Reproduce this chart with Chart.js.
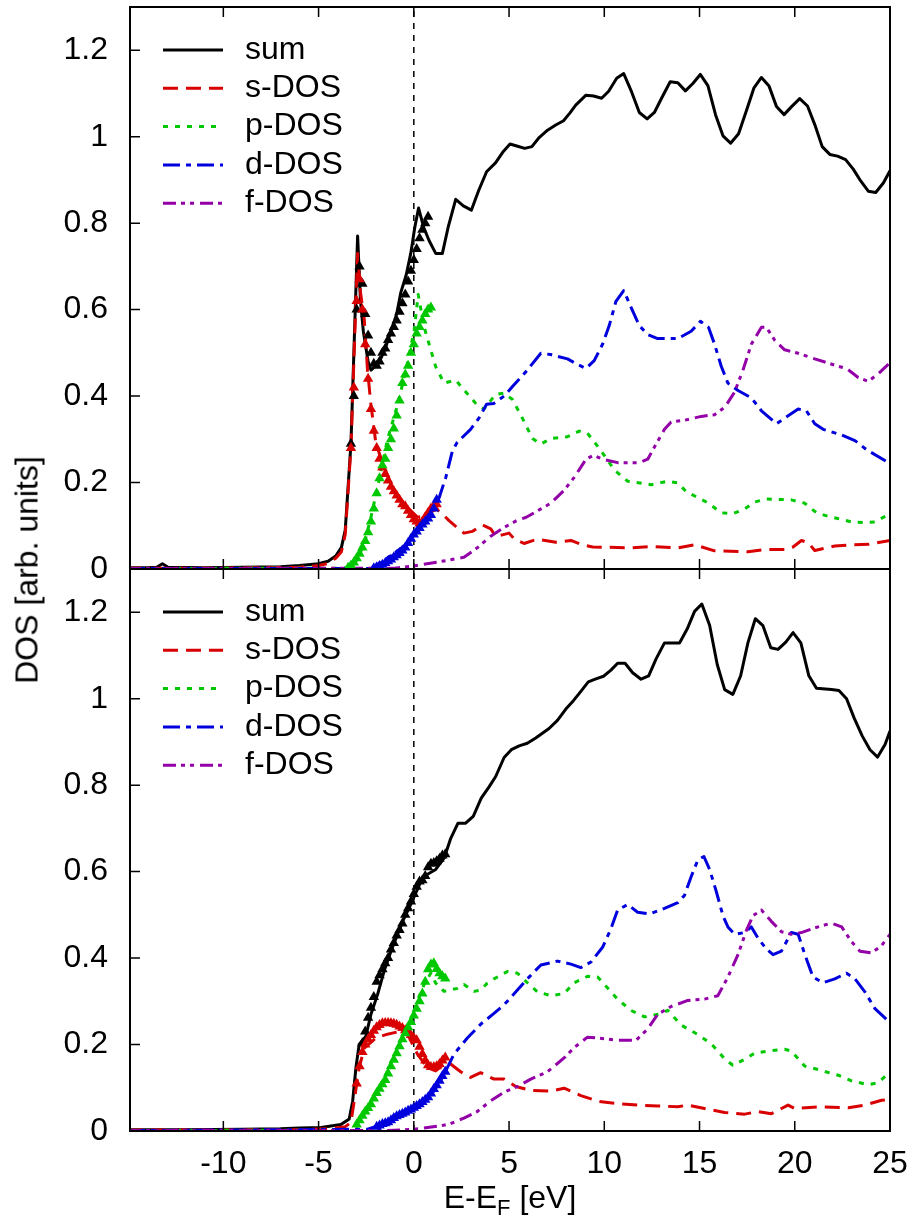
<!DOCTYPE html>
<html>
<head>
<meta charset="utf-8">
<script src="https://cdn.jsdelivr.net/npm/chart.js@4.4.1/dist/chart.umd.min.js"></script>
<style>
  body { margin: 0; background: #fff; }
  #wrap { position: relative; width: 916px; height: 1220px; font-family: "Liberation Sans", Arial, sans-serif; color: #000; }
  canvas { position: absolute; left: 0; }
  #top { top: 0; }
  #bot { top: 560px; }
  .ytitle { position: absolute; left: 27px; top: 570px; transform: translate(-50%, -50%) rotate(-90deg); font-size: 32px; white-space: nowrap; }
  .xtitle { position: absolute; left: 510px; top: 1200px; transform: translate(-50%, -50%); font-size: 32px; white-space: nowrap; }
  .xtitle sub { font-size: 22px; }
</style>
</head>
<body>
<div id="wrap">
  <canvas id="top" width="916" height="600"></canvas>
  <canvas id="bot" width="916" height="660"></canvas>
  <div class="ytitle">DOS [arb. units]</div>
  <div class="xtitle">E-E<sub>F</sub> [eV]</div>
</div>
<script>
// axes
const xMin = -14.9, xMax = 25;
const xTicks = [-10, -5, 0, 5, 10, 15, 20, 25];
const yTicks = [0, 0.2, 0.4, 0.6, 0.8, 1, 1.2];
const fermi = 0;

const names = ['sum', 's-DOS', 'p-DOS', 'd-DOS', 'f-DOS'];
const colors = ['#000000', '#d80000', '#00c800', '#0000dc', '#9400a8'];
const dashes = [[], [15, 8], [5, 7], [17, 6, 5, 6], [13, 5, 4, 5, 4, 6]];

// ---- upper panel: [E, DOS] ----
const sumTop = [[-15,0.003],[-14,0.003],[-13.5,0.004],[-13.2,0.012],[-12.9,0.004],[-11,0.003],[-9,0.004],[-7,0.005],[-6,0.008],[-5,0.012],[-4.5,0.018],[-4.1,0.03],[-3.8,0.05],[-3.6,0.09],[-3.3,0.29],[-3.14,0.51],[-2.95,0.77],[-2.8,0.62],[-2.65,0.55],[-2.4,0.48],[-2.25,0.46],[-2.0,0.47],[-1.8,0.48],[-1.5,0.51],[-1.2,0.55],[-0.9,0.59],[-0.68,0.64],[-0.4,0.68],[-0.16,0.73],[0.05,0.79],[0.25,0.835],[0.52,0.79],[0.8,0.76],[1.15,0.73],[1.5,0.73],[1.8,0.79],[2.2,0.855],[2.6,0.84],[3.02,0.83],[3.4,0.875],[3.82,0.919],[4.3,0.94],[4.7,0.966],[5.05,0.983],[5.45,0.978],[5.82,0.973],[6.2,0.977],[6.58,0.998],[7.02,1.015],[7.45,1.027],[7.86,1.037],[8.2,1.055],[8.5,1.073],[9.04,1.096],[9.44,1.094],[9.86,1.089],[10.23,1.105],[10.65,1.135],[11.02,1.146],[11.44,1.103],[11.84,1.056],[12.25,1.041],[12.63,1.056],[13.02,1.09],[13.46,1.127],[13.86,1.125],[14.26,1.106],[14.65,1.123],[15.04,1.144],[15.44,1.118],[15.84,1.051],[16.23,1.002],[16.63,0.985],[17.05,1.007],[17.46,1.06],[17.86,1.113],[18.25,1.137],[18.65,1.117],[19.04,1.07],[19.44,1.051],[19.82,1.069],[20.26,1.088],[20.67,1.071],[21.05,1.028],[21.44,0.977],[21.84,0.959],[22.25,0.955],[22.67,0.947],[23.07,0.925],[23.47,0.897],[23.86,0.874],[24.25,0.871],[24.65,0.893],[25.0,0.921]];
const sTop = [[-15,0.002],[-10,0.002],[-6,0.004],[-5,0.008],[-4.5,0.013],[-4.1,0.025],[-3.8,0.04],[-3.6,0.08],[-3.3,0.28],[-3.14,0.49],[-2.95,0.73],[-2.8,0.64],[-2.6,0.577],[-2.43,0.46],[-2.25,0.38],[-1.99,0.29],[-1.56,0.236],[-1.03,0.18],[-0.33,0.142],[0.19,0.12],[0.72,0.123],[1.15,0.14],[1.5,0.127],[1.85,0.112],[2.3,0.095],[2.63,0.083],[3.07,0.087],[3.6,0.102],[4.04,0.093],[4.3,0.075],[4.65,0.079],[5.0,0.083],[5.26,0.07],[5.79,0.059],[6.49,0.069],[7.46,0.062],[8.25,0.066],[8.77,0.057],[9.39,0.051],[11.4,0.049],[12.46,0.052],[13.86,0.049],[14.74,0.056],[15.79,0.042],[17.54,0.04],[18.42,0.045],[19.47,0.045],[19.91,0.051],[20.35,0.066],[20.7,0.061],[21.05,0.043],[22.1,0.053],[22.98,0.056],[23.86,0.057],[25.0,0.066]];
const pTop = [[-15,0.001],[-4,0.002],[-3.47,0.003],[-3.0,0.02],[-2.6,0.058],[-2.25,0.12],[-1.9,0.19],[-1.38,0.3],[-0.85,0.38],[-0.33,0.476],[0.02,0.553],[0.23,0.635],[0.54,0.56],[0.89,0.507],[1.15,0.468],[1.59,0.43],[2.2,0.437],[2.64,0.414],[3.33,0.379],[3.68,0.37],[4.3,0.404],[4.74,0.407],[5.18,0.392],[5.7,0.349],[6.23,0.302],[6.67,0.289],[7.19,0.302],[8.07,0.306],[8.68,0.319],[9.12,0.314],[9.56,0.289],[10.0,0.263],[10.53,0.229],[11.23,0.203],[12.46,0.195],[13.33,0.203],[13.86,0.199],[14.3,0.179],[15.44,0.153],[16.14,0.13],[16.75,0.128],[17.37,0.139],[17.89,0.155],[18.51,0.162],[19.82,0.16],[20.53,0.152],[21.14,0.13],[21.75,0.122],[22.98,0.109],[23.68,0.107],[24.21,0.109],[25.0,0.128]];
const dTop = [[-15,0.001],[-2.25,0.001],[-1.38,0.026],[-0.5,0.053],[0.19,0.088],[0.89,0.123],[1.33,0.165],[1.68,0.212],[2.03,0.274],[2.28,0.293],[2.98,0.323],[3.42,0.349],[3.82,0.381],[4.2,0.383],[4.74,0.4],[5.18,0.422],[5.88,0.456],[6.67,0.499],[7.19,0.496],[8.07,0.486],[8.6,0.473],[9.04,0.464],[9.47,0.482],[9.91,0.52],[10.26,0.563],[10.61,0.619],[11.02,0.644],[11.4,0.606],[11.84,0.563],[12.28,0.542],[12.8,0.533],[13.86,0.533],[14.56,0.55],[15.05,0.573],[15.47,0.559],[15.79,0.52],[16.14,0.469],[16.49,0.43],[17.02,0.413],[17.72,0.396],[18.25,0.366],[19.04,0.336],[19.47,0.349],[20.18,0.37],[20.61,0.366],[21.05,0.336],[21.49,0.323],[22.46,0.31],[23.16,0.297],[23.77,0.276],[25.0,0.244]];
const fTop = [[-15,0.001],[-1,0.002],[0.0,0.007],[1.77,0.02],[2.63,0.027],[3.33,0.049],[4.04,0.076],[4.74,0.096],[5.44,0.113],[5.88,0.119],[6.67,0.139],[7.19,0.152],[7.89,0.182],[8.42,0.212],[9.04,0.254],[9.44,0.263],[9.91,0.254],[10.7,0.246],[11.84,0.246],[12.28,0.254],[12.72,0.289],[13.16,0.323],[13.51,0.34],[14.21,0.344],[15.09,0.353],[15.79,0.357],[16.32,0.374],[16.84,0.409],[17.28,0.46],[17.72,0.52],[18.25,0.559],[18.51,0.559],[18.95,0.529],[19.47,0.507],[20.18,0.499],[21.05,0.486],[22.28,0.469],[22.72,0.464],[23.33,0.443],[23.86,0.434],[24.39,0.452],[25.0,0.477]];

// ---- lower panel ----
const sumBot = [[-15,0.003],[-12,0.003],[-9,0.004],[-7,0.005],[-6,0.007],[-4.87,0.008],[-3.83,0.015],[-3.39,0.028],[-3.21,0.069],[-3.04,0.146],[-2.87,0.2],[-2.52,0.219],[-2.25,0.27],[-1.9,0.316],[-1.56,0.37],[-1.2,0.416],[-0.85,0.455],[-0.51,0.492],[-0.16,0.524],[0.1,0.55],[0.37,0.577],[0.72,0.594],[1.15,0.605],[1.59,0.631],[1.94,0.677],[2.32,0.712],[2.72,0.712],[3.12,0.728],[3.54,0.77],[3.95,0.796],[4.3,0.82],[4.74,0.864],[5.12,0.882],[5.53,0.891],[5.96,0.897],[6.4,0.909],[7.1,0.931],[7.54,0.95],[7.98,0.976],[8.39,0.996],[8.77,1.017],[9.16,1.039],[9.56,1.046],[9.96,1.052],[10.35,1.066],[10.7,1.082],[11.09,1.082],[11.49,1.06],[11.93,1.045],[12.33,1.053],[12.72,1.092],[13.16,1.129],[13.51,1.129],[13.95,1.129],[14.35,1.161],[14.74,1.202],[15.12,1.219],[15.53,1.17],[15.93,1.079],[16.32,1.021],[16.75,1.01],[17.16,1.053],[17.54,1.129],[17.93,1.185],[18.33,1.169],[18.74,1.118],[19.12,1.114],[19.53,1.131],[19.91,1.153],[20.32,1.129],[20.74,1.053],[21.14,1.024],[21.93,1.021],[22.32,1.019],[22.72,1.0],[23.12,0.955],[23.54,0.914],[23.95,0.882],[24.35,0.865],[24.74,0.894],[25.0,0.925]];
const sBot = [[-15,0.002],[-6,0.003],[-4.5,0.005],[-3.6,0.01],[-3.3,0.02],[-3.13,0.069],[-2.87,0.146],[-2.6,0.192],[-1.99,0.215],[-1.38,0.224],[-0.68,0.231],[-0.33,0.224],[0.19,0.178],[0.72,0.146],[1.15,0.139],[1.59,0.155],[1.93,0.155],[2.46,0.137],[2.98,0.124],[3.51,0.135],[4.21,0.12],[4.74,0.12],[5.35,0.103],[6.14,0.094],[7.19,0.092],[7.89,0.099],[8.77,0.082],[9.65,0.069],[10.7,0.063],[11.75,0.06],[12.81,0.058],[13.86,0.056],[14.39,0.06],[15.26,0.052],[16.32,0.043],[17.37,0.039],[18.07,0.045],[18.77,0.04],[19.3,0.052],[19.65,0.06],[20.0,0.052],[21.23,0.056],[22.81,0.054],[23.68,0.06],[24.56,0.071],[25.0,0.073]];
const pBot = [[-15,0.001],[-4,0.002],[-3.3,0.004],[-2.95,0.012],[-2.25,0.069],[-1.56,0.122],[-0.85,0.192],[-0.16,0.254],[0.19,0.3],[0.54,0.339],[0.89,0.365],[1.15,0.342],[1.59,0.323],[2.29,0.33],[2.63,0.339],[3.16,0.323],[3.51,0.326],[3.86,0.342],[4.21,0.352],[4.91,0.369],[5.44,0.365],[5.96,0.343],[6.49,0.322],[7.19,0.313],[7.89,0.318],[8.42,0.343],[9.12,0.358],[9.65,0.356],[10.09,0.335],[10.7,0.305],[11.4,0.279],[12.11,0.264],[12.81,0.27],[13.33,0.279],[14.04,0.245],[14.91,0.223],[15.61,0.202],[16.32,0.167],[16.75,0.152],[17.37,0.166],[17.89,0.18],[18.6,0.185],[19.47,0.189],[19.82,0.185],[20.53,0.15],[21.23,0.142],[22.28,0.129],[22.98,0.116],[23.86,0.107],[24.39,0.112],[25.0,0.137]];
const dBot = [[-15,0.001],[-2.43,0.004],[-1.38,0.019],[-0.33,0.042],[0.37,0.065],[1.06,0.092],[1.59,0.131],[2.11,0.178],[2.81,0.215],[3.51,0.247],[4.21,0.272],[4.74,0.292],[5.44,0.326],[6.05,0.356],[6.67,0.384],[7.54,0.393],[8.25,0.386],[8.77,0.378],[9.3,0.391],[9.91,0.425],[10.35,0.468],[10.7,0.511],[11.23,0.524],[11.75,0.506],[12.37,0.502],[13.16,0.515],[13.86,0.528],[14.21,0.545],[14.56,0.588],[14.91,0.627],[15.23,0.635],[15.53,0.605],[15.88,0.554],[16.23,0.498],[16.49,0.472],[16.84,0.455],[17.37,0.459],[17.72,0.472],[18.07,0.446],[18.51,0.421],[18.86,0.408],[19.3,0.416],[19.82,0.459],[20.18,0.455],[20.53,0.408],[20.96,0.356],[21.49,0.343],[22.1,0.352],[22.72,0.365],[23.16,0.352],[23.68,0.322],[24.21,0.283],[24.82,0.258],[25.0,0.252]];
const fBot = [[-15,0.001],[-1.38,0.001],[0.02,0.004],[1.42,0.012],[1.93,0.017],[2.63,0.03],[3.33,0.045],[4.04,0.07],[4.74,0.09],[5.44,0.103],[6.14,0.12],[7.02,0.137],[7.89,0.169],[8.42,0.193],[9.12,0.217],[9.65,0.215],[10.7,0.21],[11.67,0.21],[12.28,0.236],[12.81,0.27],[13.51,0.288],[14.39,0.302],[15.26,0.305],[15.96,0.313],[16.49,0.356],[17.02,0.408],[17.46,0.464],[17.81,0.498],[18.25,0.511],[18.77,0.485],[19.3,0.461],[19.82,0.455],[20.35,0.459],[21.05,0.47],[21.93,0.481],[22.46,0.472],[22.98,0.438],[23.42,0.416],[24.04,0.412],[24.56,0.429],[25.0,0.455]];

// ---- triangle points near E_F (second data set), shared energy grid ----
const triE = [-3.45,-3.3,-3.15,-3.0,-2.85,-2.7,-2.55,-2.4,-2.25,-2.1,-1.95,-1.8,-1.65,-1.5,-1.35,-1.2,-1.05,-0.9,-0.75,-0.6,-0.45,-0.3,-0.15,0,0.15,0.3,0.45,0.6,0.75,0.9,1.05,1.2,1.35,1.5,1.65];
const sumTriTop = [null,0.29,0.40,0.60,0.70,0.66,0.59,0.54,0.50,0.475,0.47,0.48,0.50,0.51,0.53,0.545,0.56,0.575,0.595,0.615,0.635,0.665,0.69,0.715,0.74,0.765,0.785,0.80,0.815,null,null,null,null,null,null];
const sTriTop = [null,0.28,0.42,0.62,0.67,0.60,0.52,0.44,0.37,0.32,0.28,0.255,0.235,0.22,0.205,0.19,0.18,0.17,0.16,0.15,0.145,0.135,0.125,0.115,0.11,0.105,0.11,0.12,0.13,0.14,0.145,0.15,null,null,null];
const pTriTop = [0.003,0.008,0.015,0.025,0.035,0.05,0.065,0.085,0.11,0.14,0.175,0.21,0.24,0.255,0.28,0.30,0.325,0.355,0.39,0.43,0.45,0.47,0.50,0.52,0.545,0.56,0.575,0.59,0.60,0.605,null,null,null,null,null];
const dTriTop = [null,null,null,null,null,null,null,null,null,0.002,0.004,0.007,0.01,0.014,0.018,0.022,0.027,0.032,0.037,0.043,0.05,0.06,0.07,0.08,0.087,0.095,0.103,0.11,0.117,0.125,0.14,0.16,null,null,null];
const sumTriBot = [null,null,null,null,null,0.203,0.23,0.262,0.285,0.31,0.345,0.36,0.374,0.388,0.40,0.42,0.435,0.452,0.465,0.48,0.50,0.515,0.531,0.548,0.565,0.577,0.58,0.59,0.61,0.618,0.62,0.624,0.63,0.637,0.64];
const sTriBot = [null,null,null,0.11,0.15,0.183,0.2,0.212,0.222,0.232,0.24,0.245,0.249,0.25,0.25,0.249,0.248,0.246,0.242,0.238,0.233,0.228,0.222,0.215,0.21,0.195,0.178,0.163,0.152,0.148,0.148,0.15,0.155,0.163,0.17];
const pTriBot = [null,null,null,0.015,0.025,0.035,0.045,0.053,0.062,0.075,0.088,0.098,0.108,0.118,0.133,0.15,0.165,0.18,0.196,0.212,0.226,0.24,0.252,0.267,0.283,0.3,0.318,0.345,0.374,0.385,0.388,0.375,0.365,0.358,0.353];
const dTriBot = [null,null,null,null,null,null,null,null,null,null,0.01,0.013,0.016,0.018,0.02,0.025,0.03,0.034,0.037,0.04,0.043,0.047,0.05,0.054,0.058,0.062,0.067,0.072,0.078,0.087,0.097,0.106,0.116,0.127,0.137];

Chart.defaults.font.family = '"Liberation Sans", Arial, sans-serif';
Chart.defaults.color = '#000';

const toXY = pairs => pairs.map(p => ({x: p[0], y: p[1]}));
const triXY = vals => triE.map((e, i) => ({x: e, y: vals[i]})).filter(p => p.y !== null);

// frame, inward ticks, Fermi level and key drawn like gnuplot
const gnuFrame = {
    id: 'gnuFrame',
    beforeDatasetsDraw(chart) {
        const {ctx, chartArea: a} = chart;
        const xf = chart.scales.x.getPixelForValue(fermi);
        ctx.save();
        ctx.strokeStyle = '#000';
        ctx.lineWidth = 1.5;
        ctx.setLineDash([6, 6]);
        ctx.beginPath();
        ctx.moveTo(xf, a.bottom);
        ctx.lineTo(xf, a.top);
        ctx.stroke();
        ctx.restore();
    },
    afterDatasetsDraw(chart) {
        const {ctx, chartArea: a, scales: {x, y}} = chart;
        ctx.save();
        ctx.strokeStyle = '#000';
        ctx.lineWidth = 1.5;
        ctx.beginPath();
        xTicks.forEach(v => {
            const p = x.getPixelForValue(v);
            ctx.moveTo(p, a.bottom); ctx.lineTo(p, a.bottom - 10);
            ctx.moveTo(p, a.top); ctx.lineTo(p, a.top + 10);
        });
        yTicks.forEach(v => {
            const p = y.getPixelForValue(v);
            ctx.moveTo(a.left, p); ctx.lineTo(a.left + 10, p);
        });
        ctx.stroke();
        ctx.lineWidth = 2;
        ctx.strokeRect(a.left, a.top, a.right - a.left, a.bottom - a.top);

        // key
        ctx.font = '32px "Liberation Sans", Arial, sans-serif';
        ctx.textBaseline = 'middle';
        ctx.fillStyle = '#000';
        names.forEach((n, i) => {
            const ly = a.top + 43 + i * 38.3;
            ctx.strokeStyle = colors[i];
            ctx.lineWidth = 3;
            ctx.setLineDash(dashes[i]);
            ctx.beginPath();
            ctx.moveTo(a.left + 33, ly);
            ctx.lineTo(a.left + 93, ly);
            ctx.stroke();
            ctx.fillText(n, a.left + 115, ly);
        });
        ctx.restore();
    }
};

function makeChart(id, lines, tris, showX) {
    const datasets = [];
    lines.forEach((pairs, i) => {
        datasets.push({
            label: names[i],
            data: toXY(pairs),
            showLine: true,
            borderColor: colors[i],
            borderWidth: 3,
            borderDash: dashes[i],
            borderJoinStyle: 'round',
            pointRadius: 0,
            order: 10 - i
        });
    });
    tris.forEach((vals, i) => {
        datasets.push({
            label: names[i] + ' (pts)',
            data: triXY(vals),
            showLine: false,
            pointStyle: 'triangle',
            pointRadius: 6,
            pointBorderWidth: 0,
            backgroundColor: colors[i],
            borderColor: colors[i],
            order: 4 - i
        });
    });

    return new Chart(document.getElementById(id), {
        type: 'scatter',
        data: { datasets: datasets },
        options: {
            responsive: false,
            animation: false,
            events: [],
            layout: { padding: showX ? {top: 9, right: 26, left: 0, bottom: 0} : {top: 7, right: 26, left: 0, bottom: 31} },
            plugins: {
                legend: { display: false },
                tooltip: { enabled: false }
            },
            scales: {
                x: {
                    type: 'linear',
                    min: xMin,
                    max: xMax,
                    display: showX,
                    grid: { display: false, drawTicks: false },
                    border: { display: false },
                    afterBuildTicks: s => { s.ticks = xTicks.map(v => ({value: v})); },
                    afterFit: s => {
                        if (showX) s.height = 89;
                        s.paddingLeft = 0;
                        s.paddingRight = 0;
                    },
                    ticks: { font: { size: 32 }, padding: 14, maxRotation: 0, autoSkip: false, callback: v => String(v) }
                },
                y: {
                    min: 0,
                    max: 1.3,
                    grid: { display: false, drawTicks: false },
                    border: { display: false },
                    afterBuildTicks: s => { s.ticks = yTicks.map(v => ({value: v})); },
                    afterFit: s => {
                        s.width = 130;
                        s.paddingTop = 0;
                        s.paddingBottom = 0;
                    },
                    ticks: { font: { size: 32 }, padding: 22, callback: v => String(Math.round(v * 10) / 10) }
                }
            }
        },
        plugins: [gnuFrame]
    });
}

makeChart('top', [sumTop, sTop, pTop, dTop, fTop], [sumTriTop, sTriTop, pTriTop, dTriTop], false);
makeChart('bot', [sumBot, sBot, pBot, dBot, fBot], [sumTriBot, sTriBot, pTriBot, dTriBot], true);
</script>
</body>
</html>
